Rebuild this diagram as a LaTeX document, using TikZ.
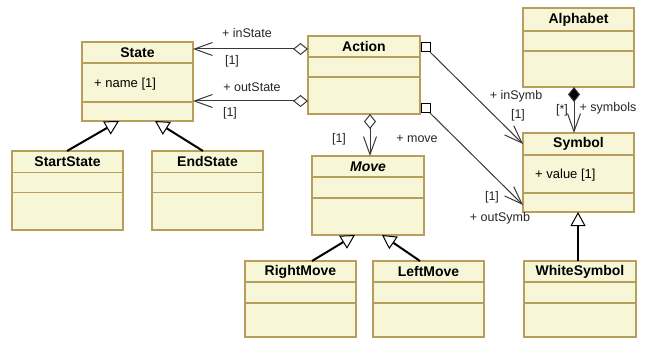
\documentclass[tikz,border=0pt]{standalone}
\usepackage{fontspec}
\setmainfont{Liberation Sans}
\usetikzlibrary{arrows.meta,calc}
\definecolor{clsfill}{HTML}{F7F7D7}
\definecolor{clsdraw}{HTML}{B89E5C}
\definecolor{assocc}{HTML}{383838}
\tikzset{
 clsbox/.style={draw=clsdraw, fill=clsfill, line width=1.2pt, inner sep=0pt, outer sep=0pt},
 clssep/.style={draw=clsdraw, line width=1.1pt},
 clstitle/.style={font=\fontsize{14}{16}\selectfont\bfseries, inner sep=0pt},
 attr/.style={font=\fontsize{13}{15}\selectfont, inner sep=0pt, anchor=west},
 lbl/.style={font=\fontsize{12.5}{15}\selectfont, inner sep=0pt, text=black!85},
 assoc/.style={draw=assocc, line width=1pt},
 navtip/.tip={Straight Barb[length=18pt,width=13pt, line width=1pt]},
 oagg/.tip={Diamond[open, length=15pt, width=12pt, line width=1pt]},
 fagg/.tip={Diamond[fill=black, length=15pt, width=12pt, line width=1pt]},
 gen/.style={draw=black, line width=2pt, -{Triangle[fill=white, length=14pt, width=15pt, line width=1pt]}},
 sqbox/.style={draw=black, fill=white, line width=1pt, minimum size=9pt, inner sep=0pt, outer sep=0pt}
}
\newcommand{\ucls}[8]{%
 \node[clsbox, minimum width={#4-#2}, minimum height={#5-#3}] (#1) at ({(#2+#4)/2},{(#3+#5)/2}) {};
 \draw[clssep] (#2,#6) -- (#4,#6);
 \draw[clssep] (#2,#7) -- (#4,#7);
 \node[clstitle] (#1-t) at ({(#2+#4)/2},{(#3+#6)/2}) {#8};
}
\begin{document}
\begin{tikzpicture}[x=1pt,y=-1pt]
\useasboundingbox (0,0) rectangle (647,339);
\ucls{state}{82}{42}{193}{121}{63}{102}{State}
\ucls{startstate}{12}{151}{123}{230}{172.5}{192.5}{StartState}
\ucls{endstate}{152}{151}{263}{230}{172.5}{192.5}{EndState}
\ucls{action}{308}{36}{420}{114}{57}{77}{Action}
\ucls{move}{312}{156}{424}{235}{177}{198}{\itshape Move}
\ucls{rightmove}{245}{261}{356}{337}{282}{303}{RightMove}
\ucls{leftmove}{373}{261}{484}{337}{282}{303}{LeftMove}
\ucls{whitesymbol}{524}{261}{636}{337}{282}{303}{WhiteSymbol}
\ucls{alphabet}{523}{8}{634}{87}{31}{51}{Alphabet}
\ucls{symbol}{523}{133}{634}{212}{155}{193}{Symbol}
\node[attr] (stateattr) at (94,84) {+ name [1]};
\node[attr] (symbolattr) at (535,175) {+ value [1]};
% associations
\draw[assoc, oagg-navtip]
  ($(action.north west)+(0,13)$) -- ($(state.north east)+(0,7)$);
\draw[assoc, oagg-navtip]
  ($(action.north west)+(0,65)$) -- ($(state.north east)+(0,59)$);
\draw[assoc, oagg-navtip]
  ($(action.south west)+(62,0)$) -- ($(move.north west)+(58,0)$);
\node[sqbox] (sq1) at (425.5,47.5) {};
\node[sqbox] (sq2) at (425.5,108.5) {};
\draw[assoc, -navtip] (sq1.south east) -- ($(symbol.north west)+(0,11)$);
\draw[assoc, -navtip] (sq2.south east) -- ($(symbol.north west)+(0,72)$);
\draw[assoc, fagg-navtip]
  ($(alphabet.south west)+(51,0)$) -- ($(symbol.north west)+(51,0)$);
% generalizations
\draw[gen] ($(startstate.north west)+(55,0)$) -- ($(state.south west)+(37,0)$);
\draw[gen] ($(endstate.north west)+(51,0)$) -- ($(state.south west)+(73,0)$);
\draw[gen] ($(rightmove.north west)+(67,0)$) -- ($(move.south west)+(43,0)$);
\draw[gen] ($(leftmove.north west)+(47,0)$) -- ($(move.south west)+(70,0)$);
\draw[gen] ($(whitesymbol.north west)+(54,0)$) -- ($(symbol.south west)+(55,0)$);
% labels
\node[lbl] (l1) at (247,33) {+ inState};
\node[lbl] (l2) at (232,61) {[1]};
\node[lbl] (l3) at (252,87) {+ outState};
\node[lbl] (l4) at (230,113) {[1]};
\node[lbl] (l5) at (339,139) {[1]};
\node[lbl] (l6) at (417,139) {+ move};
\node[lbl] (l7) at (516,96) {+ inSymb};
\node[lbl] (l8) at (518,115) {[1]};
\node[lbl] (l9) at (492,197) {[1]};
\node[lbl] (l10) at (500,218) {+ outSymb};
\node[lbl] (l11) at (562,110) {[*]};
\node[lbl] (l12) at (608,108) {+ symbols};
\end{tikzpicture}
\end{document}
